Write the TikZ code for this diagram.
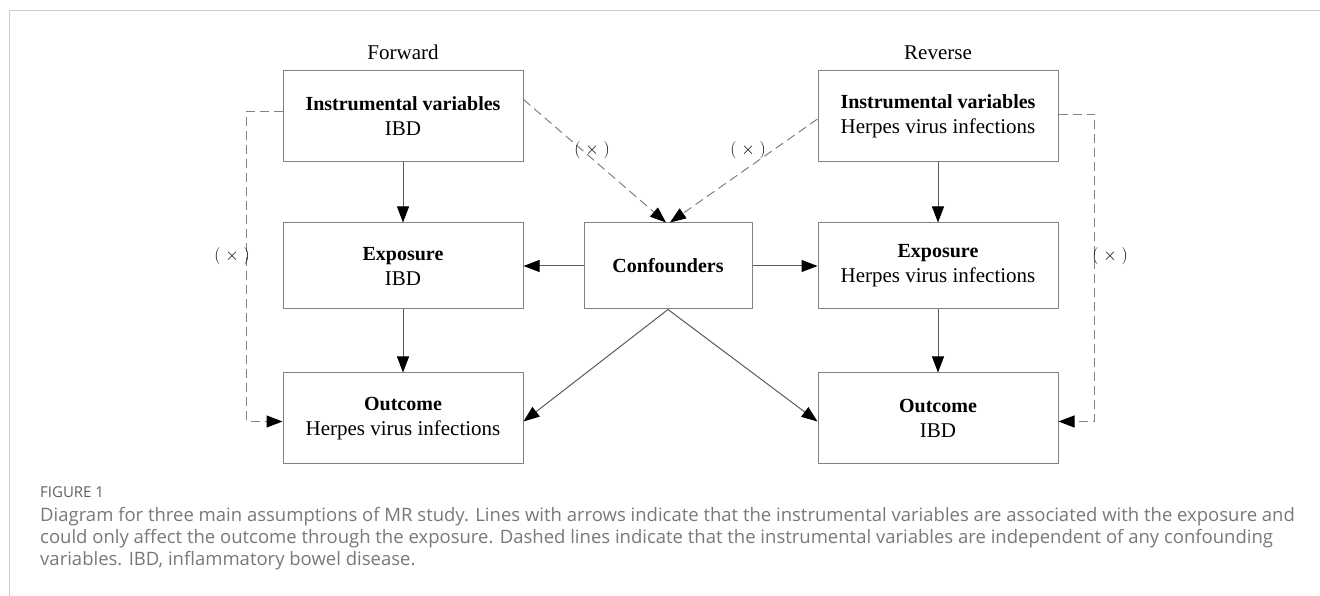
\documentclass[tikz,border=0pt]{standalone}
\usepackage{fontspec}
\setmainfont{Liberation Serif}
\newfontfamily\capfont{Open Sans}
\usetikzlibrary{arrows.meta}
\definecolor{boxgray}{RGB}{128,128,128}
\definecolor{linegray}{RGB}{90,90,90}
\definecolor{capgray}{RGB}{120,120,120}
\definecolor{framegray}{RGB}{205,205,205}
\tikzset{
  mrbox/.style={draw=boxgray,line width=1pt,minimum width=240pt,align=center,inner sep=0pt,font=\fontsize{21}{25}\selectfont},
  headtxt/.style={font=\fontsize{20}{25}\selectfont\bfseries},
  subtxt/.style={font=\fontsize{21}{25}\selectfont},
  crosslbl/.style={font=\fontsize{17}{20}\selectfont,inner sep=0pt},
  dashline/.style={draw=boxgray,line width=1pt,dash pattern=on 9pt off 5pt},
  captxt/.style={font=\capfont\fontsize{18.5}{22}\selectfont,text=capgray,anchor=base west,inner sep=0pt}
}
\newcommand{\mrtext}[2]{{\fontsize{20}{25}\selectfont\bfseries #1}\\#2}
\begin{document}
\begin{tikzpicture}[line join=round,>={Triangle[length=16pt,width=12pt,color=black]},x=1pt,y=1pt]
\useasboundingbox (0,0) rectangle (1320,596);
\draw[framegray,line width=1pt] (9,0) |- (1320,585);
\node[subtxt,anchor=base] (fwd) at (403,536) {Forward};
\node[subtxt,anchor=base] (rev) at (938,536) {Reverse};
\node[mrbox,minimum height=91pt] (ivF) at (403,479.5) {\mrtext{Instrumental variables}{IBD}};
\node[mrbox,minimum height=86pt] (expF) at (403,330) {\mrtext{Exposure}{IBD}};
\node[mrbox,minimum height=91pt] (outF) at (403,177.5) {\mrtext{Outcome}{Herpes virus infections}};
\node[mrbox,minimum height=86pt,minimum width=168pt,headtxt] (conf) at (668,330) {Confounders};
\node[mrbox,minimum height=91pt] (ivR) at (938,479.5) {\mrtext{Instrumental variables}{Herpes virus infections}};
\node[mrbox,minimum height=86pt] (expR) at (938,330) {\mrtext{Exposure}{Herpes virus infections}};
\node[mrbox,minimum height=91pt] (outR) at (938,177.5) {\mrtext{Outcome}{IBD}};
\foreach \c in {F,R}{
  \draw[->,linegray,line width=1pt] (iv\c) -- (exp\c);
  \draw[->,linegray,line width=1pt] (exp\c) -- (out\c);
}
\draw[->,linegray,line width=1pt] (conf) -- (expF);
\draw[->,linegray,line width=1pt] (conf) -- (expR);
\draw[->,linegray,line width=1pt] (conf.south) -- ([yshift=-3pt]outF.east);
\draw[->,linegray,line width=1pt] (conf.south) -- ([yshift=-3pt]outR.west);
\draw[->,dashline] ([yshift=-1pt]ivF.south east) ++(0,64) coordinate (dl) (dl) -- ([xshift=-2pt]conf.north);
\draw[->,dashline] ([yshift=-1pt]ivR.south west) ++(0,44.5) coordinate (dr) (dr) -- ([xshift=2pt]conf.north);
\draw[->,dashline] ([yshift=5pt]ivF.west) -- ++(-36,0) |- ([yshift=-3pt]outF.west);
\draw[->,dashline] ([yshift=2pt]ivR.east) -- ++(36,0) |- ([yshift=-3pt]outR.east);
\node[crosslbl] (xl) at (232,340) {$(\;\times\;)$};
\node[crosslbl] (xr) at (1110,340) {$(\;\times\;)$};
\node[crosslbl] (xtl) at (592,446) {$(\;\times\;)$};
\node[crosslbl] (xtr) at (748,446) {$(\;\times\;)$};
\node[captxt,font=\capfont\fontsize{15}{16}\selectfont,text=capgray!80!black] (cap0) at (40,98) {FIGURE 1};
\node[captxt] (cap1) at (40,74) {Diagram for three main assumptions of MR study. Lines with arrows indicate that the instrumental variables are associated with the exposure and};
\node[captxt] (cap2) at (40,52) {could only affect the outcome through the exposure. Dashed lines indicate that the instrumental variables are independent of any confounding};
\node[captxt] (cap3) at (40,30) {variables. IBD, inflammatory bowel disease.};
\end{tikzpicture}
\end{document}
